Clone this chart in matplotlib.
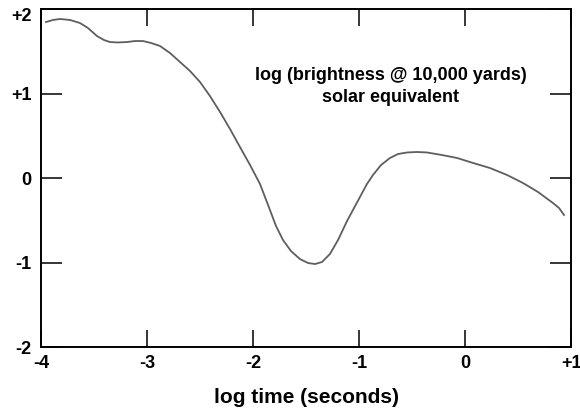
import matplotlib
matplotlib.use("Agg")
import matplotlib.pyplot as plt
from matplotlib.transforms import ScaledTranslation

plt.rcParams["font.family"] = ["Liberation Sans", "DejaVu Sans"]

# curve: log time (s) vs log brightness
log_t = [-3.953, -3.887, -3.821, -3.726, -3.632, -3.557, -3.472, -3.406, -3.349, -3.274,
         -3.189, -3.113, -3.038, -2.962, -2.877, -2.783, -2.689, -2.594, -2.500, -2.406,
         -2.311, -2.217, -2.123, -2.028, -1.934, -1.887, -1.840, -1.783, -1.717, -1.642,
         -1.557, -1.481, -1.415, -1.349, -1.274, -1.198, -1.113, -1.047, -0.991, -0.925,
         -0.868, -0.792, -0.708, -0.632, -0.547, -0.453, -0.358, -0.217, -0.075, 0.075,
         0.236, 0.396, 0.547, 0.689, 0.830, 0.887, 0.934]
log_b = [1.846, 1.870, 1.882, 1.870, 1.834, 1.775, 1.680, 1.633, 1.609, 1.604,
         1.609, 1.621, 1.621, 1.598, 1.562, 1.479, 1.373, 1.266, 1.136, 0.970,
         0.781, 0.580, 0.367, 0.154, -0.071, -0.225, -0.379, -0.568, -0.734, -0.864,
         -0.959, -1.006, -1.018, -0.994, -0.899, -0.734, -0.509, -0.355, -0.225, -0.071,
         0.036, 0.154, 0.237, 0.284, 0.302, 0.308, 0.302, 0.272, 0.237, 0.178,
         0.118, 0.036, -0.059, -0.166, -0.296, -0.355, -0.438]

xticks = [-4, -3, -2, -1, 0, 1]
xticklabels = ["-4", "-3", "-2", "-1", "0", "+1"]
yticks = [-2, -1, 0, 1, 2]
yticklabels = ["-2", "-1", "0", "+1", "+2"]

fig = plt.figure(figsize=(5.8, 4.11), dpi=100)
ax = fig.add_axes([0.0707, 0.1557, 0.9138, 0.8224])

ax.plot(log_t, log_b, color="#5e5e5e", lw=1.3, solid_joinstyle="round")

ax.set_xlim(-4, 1)
ax.set_ylim(-2, 2)
ax.set_xticks(xticks)
ax.set_xticklabels(xticklabels, fontsize=13, fontweight="bold")
ax.set_yticks(yticks)
ax.set_yticklabels(yticklabels, fontsize=13, fontweight="bold")
ax.tick_params(axis="x", direction="in", length=12, width=1.1, top=True, pad=6)
ax.tick_params(axis="y", direction="in", length=15, width=1.1, right=True, pad=7)
for s in ax.spines.values():
    s.set_linewidth(1.4)

# top label sits a little below its tick in the original
top_lab = ax.get_yticklabels()[-1]
top_lab.set_transform(top_lab.get_transform() + ScaledTranslation(0, -4 / 72, fig.dpi_scale_trans))

ax.set_xlabel("log time (seconds)", fontsize=15, fontweight="bold", labelpad=11)
ax.text(0.66, 0.771, "log (brightness @ 10,000 yards)\nsolar equivalent",
        transform=ax.transAxes, ha="center", va="center", fontsize=13,
        fontweight="bold", linespacing=1.35)

fig.savefig("out.png", dpi=100)
